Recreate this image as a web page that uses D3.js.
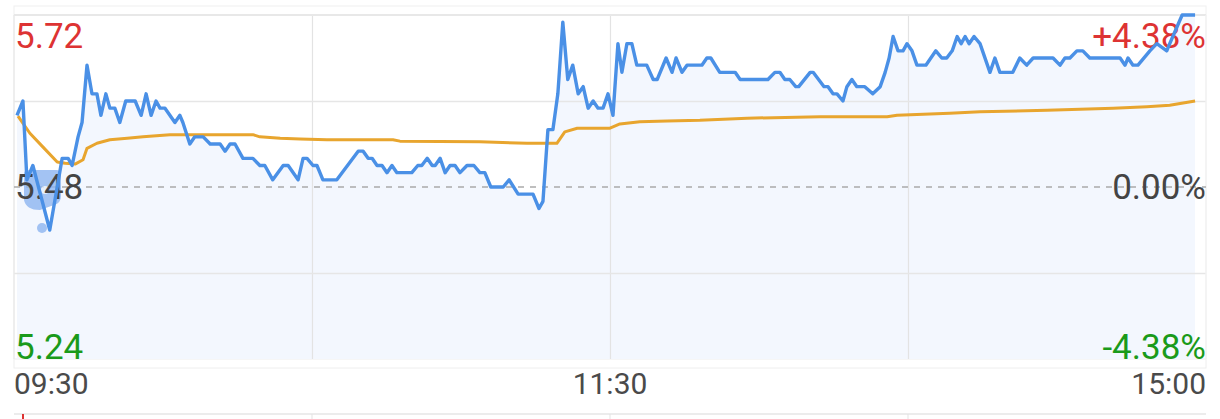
<!DOCTYPE html>
<html>
<head>
<meta charset="utf-8">
<script src="https://cdn.jsdelivr.net/npm/d3@7"></script>
<style>
  html, body { margin: 0; padding: 0; background: #fff; }
  svg { display: block; font-family: Roboto, "Noto Sans", sans-serif; }
</style>
</head>
<body>
<svg width="1220" height="419"></svg>
<script>
// minutes since 09:30 (trading time, lunch break removed) and price
const priceMinutes = [0.6, 1.8, 2.6, 3.8, 7.2, 9.7, 10.9, 11.7, 12.9, 13.7, 14.7, 15.7, 16.7, 17.5, 18.5, 19.3, 20.3, 21.3, 22.5, 24.4,
  25.6, 26.6, 27.6, 28.6, 29.4, 30.4, 32.4, 33.4, 34.0, 35.4, 36.4, 38.1, 39.5, 41.5, 42.5, 43.5, 44.5, 46.1, 48.1, 49.5,
  50.5, 52.1, 54.2, 55.2, 57.2, 58.2, 59.0, 60.2, 61.0, 62.2, 65.0, 69.3, 70.3, 71.3, 72.1, 73.1, 74.1, 75.1, 76.1, 77.1,
  79.7, 80.1, 81.3, 82.1, 83.2, 84.2, 84.8, 85.8, 86.8, 87.8, 88.8, 89.8, 91.2, 92.6, 93.8, 94.8, 96.0, 98.5, 99.7, 101.5,
  104.5, 105.7, 106.5, 107.5, 108.5, 109.5, 110.5, 111.5, 112.5, 113.6, 114.6, 115.6, 116.6, 117.6, 118.6, 119.6, 120.6, 121.6, 122.4, 123.4,
  124.4, 125.4, 127.4, 128.7, 129.5, 131.3, 132.5, 133.3, 134.5, 135.5, 138.5, 139.5, 140.3, 142.1, 145.2, 146.2, 150.2, 151.8, 153.2, 154.2,
  155.2, 156.2, 157.4, 158.0, 160.3, 160.9, 163.1, 163.9, 164.9, 165.7, 166.9, 167.7, 168.7, 169.7, 171.3, 172.9, 174.4, 175.4, 176.2, 177.0,
  178.0, 179.0, 179.8, 180.8, 181.8, 183.6, 185.6, 186.8, 187.8, 188.9, 189.9, 190.7, 191.5, 192.3, 193.3, 194.5, 196.5, 197.5, 198.5, 201.1,
  202.5, 203.9, 205.2, 209.2, 210.6, 211.6, 212.6, 214.0, 215.2, 216.6, 222.7, 223.7, 224.3, 225.3, 226.3, 228.7, 230.1, 232.1, 232.7, 235.2, 237.8];
const priceValues = [5.58, 5.60, 5.49, 5.51, 5.42, 5.52, 5.52, 5.51, 5.55, 5.57, 5.65, 5.61, 5.61, 5.58, 5.61, 5.59, 5.59, 5.57, 5.60, 5.60,
  5.58, 5.61, 5.58, 5.60, 5.59, 5.59, 5.57, 5.58, 5.57, 5.54, 5.55, 5.55, 5.54, 5.54, 5.53, 5.54, 5.54, 5.52, 5.52, 5.51,
  5.51, 5.49, 5.51, 5.51, 5.49, 5.52, 5.52, 5.51, 5.51, 5.49, 5.49, 5.53, 5.53, 5.52, 5.52, 5.51, 5.51, 5.50, 5.51, 5.50,
  5.50, 5.50, 5.51, 5.51, 5.52, 5.51, 5.51, 5.52, 5.50, 5.51, 5.51, 5.50, 5.51, 5.51, 5.50, 5.50, 5.48, 5.48, 5.49, 5.47,
  5.47, 5.45, 5.46, 5.56, 5.56, 5.61, 5.71, 5.63, 5.65, 5.61, 5.62, 5.59, 5.60, 5.59, 5.59, 5.61, 5.58, 5.68, 5.64, 5.68,
  5.68, 5.65, 5.65, 5.63, 5.63, 5.66, 5.64, 5.66, 5.64, 5.65, 5.65, 5.66, 5.66, 5.64, 5.64, 5.63, 5.63, 5.63, 5.64, 5.64,
  5.63, 5.63, 5.62, 5.62, 5.64, 5.64, 5.62, 5.62, 5.61, 5.61, 5.60, 5.62, 5.63, 5.62, 5.62, 5.61, 5.62, 5.64, 5.66, 5.69,
  5.67, 5.67, 5.68, 5.67, 5.65, 5.65, 5.67, 5.66, 5.66, 5.67, 5.69, 5.68, 5.69, 5.68, 5.69, 5.68, 5.64, 5.66, 5.64, 5.64,
  5.66, 5.65, 5.66, 5.66, 5.65, 5.66, 5.66, 5.67, 5.67, 5.66, 5.66, 5.65, 5.66, 5.65, 5.65, 5.67, 5.68, 5.67, 5.68, 5.72, 5.72];

// average price line
const avgMinutes = [0.8, 3.2, 5.8, 8.7, 10.3, 12.3, 13.9, 14.7, 16.7, 19.3, 22.8, 26.0, 28.0, 31.4, 39.5, 48.1, 49.5, 53.6, 57.6, 63.0,
  76.3, 77.7, 93.8, 103.3, 109.3, 110.9, 113.4, 120.0, 122.0, 126.0, 131.5, 138.1, 147.6, 162.3, 175.8, 177.8, 188.4, 194.5, 208.0, 221.3,
  228.1, 232.7, 237.8];
const avgValues = [5.579, 5.555, 5.536, 5.515, 5.513, 5.512, 5.518, 5.534, 5.541, 5.546, 5.548, 5.550, 5.551, 5.553, 5.553, 5.553, 5.550, 5.548, 5.547, 5.546,
  5.546, 5.544, 5.543, 5.541, 5.541, 5.557, 5.562, 5.562, 5.568, 5.571, 5.572, 5.573, 5.576, 5.578, 5.578, 5.580, 5.583, 5.585, 5.587, 5.590,
  5.592, 5.594, 5.600];

const prevClose = 5.48;
const priceTicks = ['5.72', '5.48', '5.24'];
const pctTicks = ['+4.38%', '0.00%', '-4.38%'];
const timeTicks = ['09:30', '11:30', '15:00'];

const svg = d3.select('svg');
const plotLeft = 14;
const plotRight = 1206;
const plotTop = 15;
const plotBottom = 359;

const x = d3.scaleLinear().domain([0, 240]).range([plotLeft, plotRight]);
const y = d3.scaleLinear().domain([5.24, 5.72]).range([plotBottom, plotTop]);

const price = priceMinutes.map((m, i) => ({ m, v: priceValues[i] }));
const avg = avgMinutes.map((m, i) => ({ m, v: avgValues[i] }));

// frame strips above and below the plot
svg.append('rect').attr('x', plotLeft).attr('y', 6).attr('width', plotRight - plotLeft).attr('height', 9)
  .attr('fill', '#fff').attr('stroke', '#f0f0f0').attr('stroke-width', 1);
svg.append('rect').attr('x', plotLeft).attr('y', 359).attr('width', plotRight - plotLeft).attr('height', 9)
  .attr('fill', '#fff').attr('stroke', '#eeeeee').attr('stroke-width', 1);

// area under the price line
svg.append('path')
  .datum(price)
  .attr('fill', '#f3f7fe')
  .attr('d', d3.area().x((d) => x(d.m)).y0(plotBottom).y1((d) => y(d.v)));

// grid
svg.append('g')
  .attr('transform', `translate(0,${plotBottom})`)
  .call(d3.axisBottom(x).tickValues([60, 120, 180]).tickSize(-(plotBottom - plotTop)).tickFormat(''))
  .call((g) => g.select('.domain').remove())
  .call((g) => g.selectAll('line').attr('stroke', '#e3e3e3').attr('stroke-width', 1.2));

svg.append('g')
  .attr('transform', `translate(${plotLeft},0)`)
  .call(d3.axisLeft(y).tickValues([5.60, 5.36]).tickSize(-(plotRight - plotLeft)).tickFormat(''))
  .call((g) => g.select('.domain').remove())
  .call((g) => g.selectAll('line').attr('stroke', '#e6e6e6').attr('stroke-width', 1.5));

// plot border
svg.append('line').attr('x1', plotLeft).attr('x2', plotRight).attr('y1', plotTop).attr('y2', plotTop)
  .attr('stroke', '#e8e8e8').attr('stroke-width', 2);
svg.append('line').attr('x1', plotLeft).attr('x2', plotLeft).attr('y1', plotTop).attr('y2', plotBottom)
  .attr('stroke', '#e8e8e8').attr('stroke-width', 1.5);
svg.append('line').attr('x1', plotRight).attr('x2', plotRight).attr('y1', plotTop).attr('y2', plotBottom)
  .attr('stroke', '#f0f0f0').attr('stroke-width', 1.5);

// previous close
svg.append('line')
  .attr('x1', plotLeft).attr('x2', plotRight)
  .attr('y1', y(prevClose)).attr('y2', y(prevClose))
  .attr('stroke', '#ababab').attr('stroke-width', 1.5).attr('stroke-dasharray', '6,6');

// little floating badge near the open (sits under the text)
const badge = svg.append('g').attr('opacity', 0.8);
badge.append('path')
  .attr('d', 'M24,174 Q24,170 28,170 L56,170 Q61,170 61,175 L61,196 Q61,203 54,205 L40,210 Q26,210 24,200 Z')
  .attr('fill', '#8db5f1');
badge.append('circle').attr('cx', 42).attr('cy', 228).attr('r', 5).attr('fill', '#8db5f1');
badge.append('circle').attr('cx', 45).attr('cy', 190).attr('r', 4).attr('fill', '#e3edfc');

// labels
const red = '#dd3333';
const green = '#1a9a1a';
const gray = '#444';
const labelColors = [red, gray, green];
const labelY = [48, 199, 359];
svg.append('g').selectAll('text').data(priceTicks).join('text')
  .attr('x', 15).attr('y', (d, i) => labelY[i])
  .attr('fill', (d, i) => labelColors[i])
  .style('font-size', '35px')
  .text((d) => d);
svg.append('g').selectAll('text').data(pctTicks).join('text')
  .attr('x', 1206).attr('y', (d, i) => labelY[i])
  .attr('text-anchor', 'end')
  .attr('fill', (d, i) => labelColors[i])
  .style('font-size', '35px')
  .text((d) => d);
svg.append('g').selectAll('text').data(timeTicks).join('text')
  .attr('x', (d, i) => x(i * 120))
  .attr('y', 394)
  .attr('text-anchor', (d, i) => ['start', 'middle', 'end'][i])
  .attr('fill', '#4a4a4a')
  .style('font-size', '30px')
  .text((d) => d);

// lines
svg.append('path')
  .datum(avg)
  .attr('fill', 'none')
  .attr('stroke', '#e8a52e')
  .attr('stroke-width', 3)
  .attr('stroke-linejoin', 'round')
  .attr('d', d3.line().x((d) => x(d.m)).y((d) => y(d.v)));

svg.append('path')
  .datum(price)
  .attr('fill', 'none')
  .attr('stroke', '#4a90e6')
  .attr('stroke-width', 3.4)
  .attr('stroke-linejoin', 'round')
  .attr('d', d3.line().x((d) => x(d.m)).y((d) => y(d.v)));

// bottom panel edge
svg.append('line').attr('x1', plotLeft).attr('x2', plotRight).attr('y1', 414).attr('y2', 414)
  .attr('stroke', '#ececec').attr('stroke-width', 2);
svg.append('g').selectAll('line').data([60, 120, 180]).join('line')
  .attr('x1', (d) => x(d)).attr('x2', (d) => x(d))
  .attr('y1', 414).attr('y2', 419)
  .attr('stroke', '#e3e3e3');
svg.append('line').attr('x1', 23).attr('x2', 23).attr('y1', 414).attr('y2', 419)
  .attr('stroke', red).attr('stroke-width', 2);
</script>
</body>
</html>
